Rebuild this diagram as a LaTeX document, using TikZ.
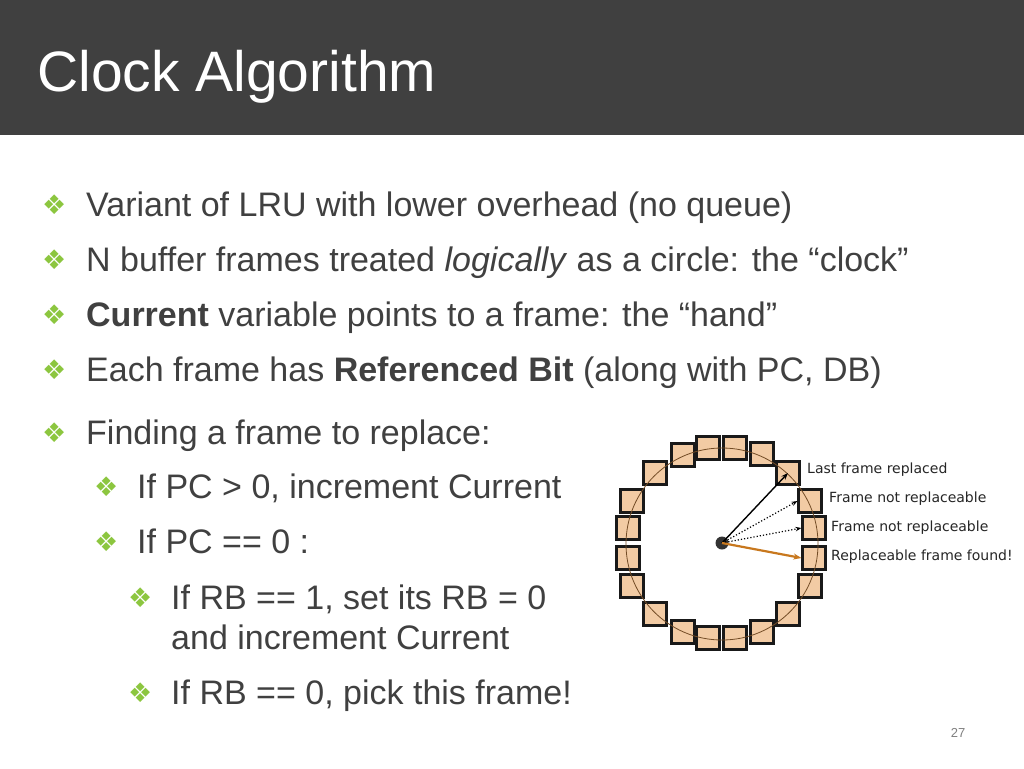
\documentclass[tikz,border=0pt]{standalone}
\usepackage{fontspec}
\setmainfont{Liberation Sans}
\newfontfamily\dejavu{DejaVu Sans}
\usetikzlibrary{arrows.meta}
\definecolor{hdr}{HTML}{404040}
\definecolor{txt}{HTML}{404040}
\definecolor{bul}{HTML}{8CC63F}
\definecolor{frm}{HTML}{F2CBA4}
\definecolor{org}{HTML}{C8781E}
\begin{document}
\begin{tikzpicture}[x=1pt,y=-1pt,
  body/.style={anchor=base west,inner sep=0pt,text=txt,font=\fontsize{34}{38}\selectfont},
  bl/.style={anchor=base west,inner sep=0pt,text=bul,font=\dejavu\fontsize{27}{30}\selectfont},
  fr/.style={draw=black!90,line width=2.2pt,fill=frm,minimum size=23pt,inner sep=0pt},
  lab/.style={anchor=west,inner sep=0pt,text=black!85,font=\dejavu\fontsize{14}{16}\selectfont}]
\useasboundingbox (0,0) rectangle (1024,768);
\fill[white] (0,0) rectangle (1024,768);
\fill[hdr] (0,0) rectangle (1024,135);
\node[anchor=base west,inner sep=0pt,text=white,font=\fontsize{57}{60}\selectfont] (title) at (37,91) {Clock Algorithm};
% bullets
\node[bl] (b1) at (42,214) {❖}; \node[body] (t1) at (86,216) {Variant of LRU with lower overhead (no queue)};
\node[bl] (b2) at (42,269) {❖}; \node[body] (t2) at (86,271) {N buffer frames treated \textit{logically} as a circle: the “clock”};
\node[bl] (b3) at (42,324) {❖}; \node[body] (t3) at (86,326) {\textbf{Current} variable points to a frame: the “hand”};
\node[bl] (b4) at (42,379) {❖}; \node[body] (t4) at (86,381) {Each frame has \textbf{Referenced Bit} (along with PC, DB)};
\node[bl] (b5) at (42,442) {❖}; \node[body] (t5) at (86,444) {Finding a frame to replace:};
\node[bl] (b6) at (94,496) {❖}; \node[body] (t6) at (137,498) {If PC > 0, increment Current};
\node[bl] (b7) at (94,551) {❖}; \node[body] (t7) at (137,553) {If PC == 0 :};
\node[bl] (b8) at (128,607) {❖}; \node[body] (t8) at (171,609) {If RB == 1, set its RB = 0};
\node[body] (t9) at (171,649) {and increment Current};
\node[bl] (b10) at (128,702) {❖}; \node[body] (t10) at (171,704) {If RB == 0, pick this frame!};
\node[text=black!50,font=\fontsize{13}{15}\selectfont] (pg) at (958,733) {27};
% clock
\foreach \n/\x/\y in {1/683/455,2/708/448,3/735/448,4/762/454,5/788/473,6/810/501,7/814/528,8/814/558,9/810/586,10/788/614,11/762/632,12/735/638,13/708/638,14/683/632,15/655/614,16/632/586,17/628/558,18/628/528,19/632/501,20/655/473}
  \node[fr] (f\n) at (\x,\y) {};
\draw[draw=brown!60!black,line width=0.8pt] (722,544) circle (96);
\fill[black!80] (722,543) circle (6.5);
\coordinate (hub) at (722,543);
\draw[-{Stealth[length=7pt]},line width=1.4pt] (hub) -- (f5.center);
\draw[-{Stealth[length=6pt]},dotted,line width=1.2pt] (hub) -- (f6.west);
\draw[-{Stealth[length=6pt]},dotted,line width=1.2pt] (hub) -- (f7.west);
\draw[-{Stealth[length=8pt]},org,line width=2.2pt] (hub) -- (f8.west);
\node[lab] (l1) at (807,470) {Last frame replaced};
\node[lab] (l2) at (829,499) {Frame not replaceable};
\node[lab] (l3) at (831,528) {Frame not replaceable};
\node[lab] (l4) at (831,557) {Replaceable frame found!};
\end{tikzpicture}
\end{document}
